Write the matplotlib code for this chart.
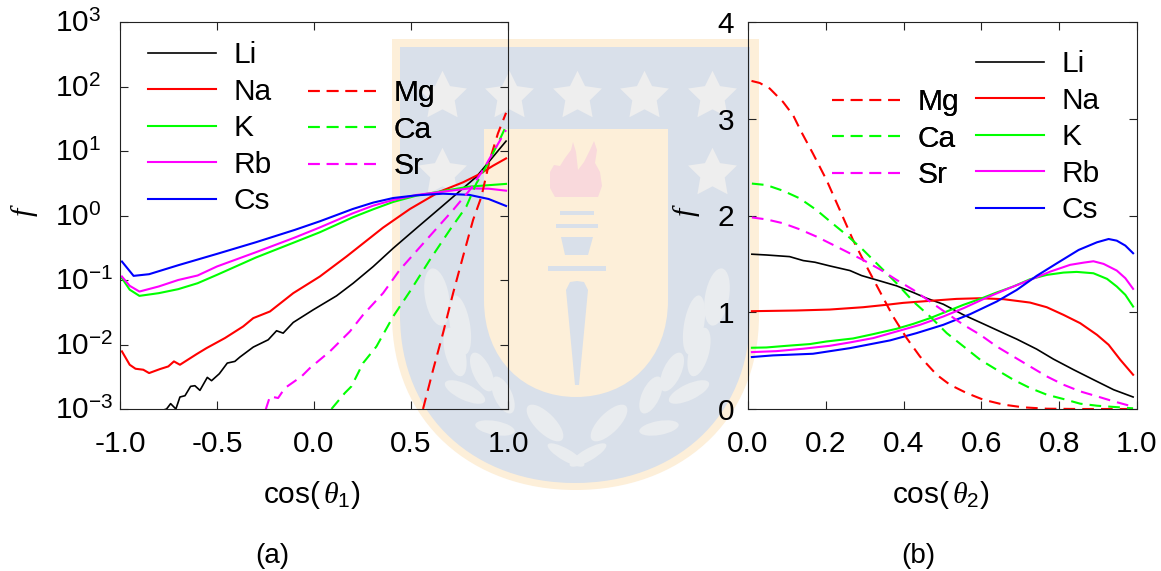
import numpy as np
import matplotlib
matplotlib.use("Agg")
import matplotlib.pyplot as plt
from matplotlib.path import Path
from matplotlib.patches import PathPatch, Ellipse, Polygon, Rectangle
from matplotlib.transforms import ScaledTranslation

# panel (a): cos(theta1) and log10(f)
cs_x1 = [-0.99, -0.93, -0.85, -0.7, -0.5, -0.3, -0.1, 0.03, 0.2, 0.305, 0.408, 0.528, 0.665, 0.8, 0.9, 0.99]
cs_y1 = [-0.714, -0.936, -0.91, -0.771, -0.595, -0.415, -0.224, -0.09, 0.101, 0.2, 0.271, 0.313, 0.338, 0.32, 0.256, 0.148]
rb_x1 = [-0.99, -0.95, -0.9, -0.8, -0.7, -0.6, -0.5, -0.3, -0.1, 0.03, 0.2, 0.305, 0.408, 0.528, 0.665, 0.8, 0.9, 0.99]
rb_y1 = [-0.946, -1.09, -1.179, -1.10, -1.0, -0.93, -0.79, -0.57, -0.343, -0.185, 0.034, 0.153, 0.24, 0.318, 0.37, 0.42, 0.416, 0.385]
k_x1 = [-0.99, -0.95, -0.9, -0.8, -0.7, -0.6, -0.5, -0.3, -0.1, 0.03, 0.2, 0.305, 0.408, 0.528, 0.665, 0.8, 0.9, 0.99]
k_y1 = [-0.972, -1.15, -1.246, -1.204, -1.142, -1.05, -0.92, -0.652, -0.415, -0.26, -0.028, 0.096, 0.21, 0.308, 0.38, 0.447, 0.47, 0.49]
na_x1 = [-0.99, -0.95, -0.92, -0.88, -0.85, -0.794, -0.751, -0.722, -0.691, -0.605, -0.554, -0.459, -0.365, -0.313, -0.227, -0.107, 0.03, 0.167, 0.356, 0.494, 0.648, 0.768, 0.854, 0.923, 0.99]
na_y1 = [-2.107, -2.314, -2.376, -2.391, -2.443, -2.381, -2.34, -2.262, -2.314, -2.149, -2.056, -1.9, -1.72, -1.591, -1.488, -1.204, -0.946, -0.637, -0.188, 0.1, 0.37, 0.514, 0.643, 0.772, 0.885]
li_x1 = [-0.811, -0.76, -0.739, -0.712, -0.691, -0.665, -0.636, -0.614, -0.588, -0.55, -0.528, -0.488, -0.447, -0.408, -0.382, -0.313, -0.236, -0.193, -0.159, -0.107, -0.004, 0.116, 0.202, 0.305, 0.408, 0.528, 0.648, 0.734, 0.837, 0.923, 0.99]
li_y1 = [-3.05, -3.0, -2.917, -3.0, -2.814, -2.794, -2.649, -2.639, -2.711, -2.51, -2.561, -2.453, -2.288, -2.262, -2.195, -2.04, -1.927, -1.787, -1.824, -1.658, -1.462, -1.246, -1.05, -0.792, -0.508, -0.197, 0.111, 0.333, 0.6, 0.911, 1.153]
sr_x1 = [-0.25, -0.227, -0.185, -0.15, -0.064, -0.021, 0.082, 0.185, 0.253, 0.356, 0.442, 0.579, 0.717, 0.803, 0.871, 0.94, 0.99]
sr_y1 = [-3.02, -2.804, -2.83, -2.675, -2.494, -2.365, -2.107, -1.798, -1.54, -1.204, -0.843, -0.379, 0.086, 0.395, 0.705, 1.066, 1.324]
ca_x1 = [0.09, 0.159, 0.193, 0.253, 0.322, 0.408, 0.494, 0.597, 0.70, 0.785, 0.837, 0.897, 0.948, 0.99]
ca_y1 = [-3.0, -2.752, -2.649, -2.288, -2.03, -1.566, -1.179, -0.688, -0.224, 0.137, 0.498, 0.808, 1.118, 1.386]
mg_x1 = [0.562, 0.614, 0.665, 0.717, 0.768, 0.82, 0.863, 0.906, 0.948, 0.99]
mg_y1 = [-3.0, -2.391, -1.824, -1.204, -0.637, -0.069, 0.292, 0.86, 1.272, 1.592]

# panel (b): cos(theta2) and f
mg_x2 = [0.009, 0.03, 0.056, 0.09, 0.116, 0.137, 0.167, 0.202, 0.236, 0.27, 0.305, 0.339, 0.373, 0.408, 0.442, 0.485, 0.519, 0.562, 0.605, 0.657, 0.708, 0.768, 0.854, 0.99]
mg_y2 = [3.391, 3.37, 3.312, 3.174, 3.036, 2.865, 2.64, 2.366, 2.057, 1.747, 1.472, 1.214, 0.956, 0.732, 0.543, 0.354, 0.251, 0.165, 0.096, 0.045, 0.017, 0.003, 0.0, 0.0]
ca_x2 = [0.01, 0.047, 0.09, 0.133, 0.176, 0.219, 0.253, 0.296, 0.339, 0.382, 0.425, 0.468, 0.511, 0.554, 0.597, 0.639, 0.682, 0.725, 0.768, 0.811, 0.854, 0.897, 0.99]
ca_y2 = [2.33, 2.315, 2.256, 2.177, 2.057, 1.912, 1.8, 1.644, 1.472, 1.3, 1.11, 0.956, 0.784, 0.647, 0.509, 0.406, 0.303, 0.217, 0.148, 0.103, 0.055, 0.034, 0.007]
sr_x2 = [0.01, 0.047, 0.09, 0.133, 0.176, 0.219, 0.253, 0.296, 0.339, 0.382, 0.425, 0.468, 0.511, 0.554, 0.597, 0.639, 0.682, 0.725, 0.768, 0.811, 0.854, 0.897, 0.94, 0.99]
sr_y2 = [1.98, 1.96, 1.92, 1.857, 1.782, 1.696, 1.627, 1.54, 1.444, 1.334, 1.231, 1.11, 0.99, 0.87, 0.767, 0.647, 0.543, 0.44, 0.337, 0.251, 0.182, 0.131, 0.079, 0.024]
li_x2 = [0.01, 0.047, 0.107, 0.142, 0.172, 0.21, 0.262, 0.292, 0.339, 0.382, 0.425, 0.459, 0.502, 0.554, 0.605, 0.657, 0.691, 0.742, 0.785, 0.837, 0.888, 0.94, 0.99]
li_y2 = [1.6, 1.592, 1.575, 1.534, 1.517, 1.479, 1.431, 1.379, 1.324, 1.273, 1.204, 1.145, 1.083, 0.973, 0.88, 0.784, 0.722, 0.619, 0.516, 0.406, 0.303, 0.199, 0.124]
na_x2 = [0.01, 0.124, 0.21, 0.296, 0.356, 0.399, 0.468, 0.536, 0.597, 0.657, 0.725, 0.768, 0.811, 0.854, 0.897, 0.927, 0.957, 0.99]
na_y2 = [1.011, 1.018, 1.028, 1.052, 1.077, 1.097, 1.118, 1.138, 1.145, 1.135, 1.1, 1.052, 0.973, 0.887, 0.767, 0.664, 0.509, 0.354]
k_x2 = [0.01, 0.047, 0.099, 0.159, 0.202, 0.27, 0.322, 0.382, 0.425, 0.468, 0.511, 0.554, 0.597, 0.639, 0.682, 0.725, 0.768, 0.811, 0.845, 0.888, 0.923, 0.948, 0.97, 0.99]
k_y2 = [0.633, 0.636, 0.653, 0.671, 0.698, 0.729, 0.774, 0.829, 0.88, 0.939, 1.008, 1.077, 1.138, 1.204, 1.266, 1.341, 1.386, 1.41, 1.417, 1.403, 1.345, 1.266, 1.18, 1.059]
rb_x2 = [0.01, 0.073, 0.142, 0.21, 0.262, 0.322, 0.382, 0.442, 0.502, 0.554, 0.614, 0.665, 0.725, 0.777, 0.828, 0.863, 0.888, 0.914, 0.948, 0.97, 0.99]
rb_y2 = [0.588, 0.598, 0.623, 0.653, 0.688, 0.733, 0.801, 0.87, 0.956, 1.042, 1.152, 1.238, 1.334, 1.42, 1.49, 1.513, 1.527, 1.5, 1.431, 1.352, 1.242]
cs_x2 = [0.01, 0.064, 0.167, 0.262, 0.365, 0.433, 0.502, 0.571, 0.639, 0.691, 0.742, 0.794, 0.85, 0.897, 0.927, 0.948, 0.97, 0.99]
cs_y2 = [0.537, 0.554, 0.571, 0.629, 0.709, 0.784, 0.87, 0.98, 1.11, 1.231, 1.376, 1.506, 1.644, 1.723, 1.757, 1.74, 1.689, 1.61]

xticks_a = [-1.0, -0.5, 0.0, 0.5, 1.0]
xticks_b = [0.0, 0.2, 0.4, 0.6, 0.8, 1.0]
yticks_a = [-3, -2, -1, 0, 1, 2, 3]
yticks_b = [0, 1, 2, 3, 4]

W, H = 1161, 571
plt.rcParams["font.family"] = ["Liberation Sans", "DejaVu Sans"]
plt.rcParams["mathtext.fontset"] = "custom"
plt.rcParams["mathtext.rm"] = "Liberation Sans"
plt.rcParams["mathtext.it"] = "Liberation Serif:italic"
plt.rcParams["axes.unicode_minus"] = False
FS = 21.5
DASH = (0, (5.6, 3.4))

fig = plt.figure(figsize=(W / 100, H / 100), dpi=100)

# background crest, in pixel coordinates
bg = fig.add_axes([0, 0, 1, 1], zorder=0)
bg.set_xlim(0, W)
bg.set_ylim(H, 0)
bg.axis("off")


def shield(x0, x1, top, side, bottom, color):
    cx = (x0 + x1) / 2
    verts = [(x0, top), (x1, top), (x1, side),
             (x1, side + (bottom - side) * 0.62), (cx + (x1 - x0) * 0.28, bottom), (cx, bottom),
             (cx - (x1 - x0) * 0.28, bottom), (x0, side + (bottom - side) * 0.62), (x0, side),
             (x0, top)]
    codes = [Path.MOVETO, Path.LINETO, Path.LINETO,
             Path.CURVE4, Path.CURVE4, Path.CURVE4,
             Path.CURVE4, Path.CURVE4, Path.CURVE4,
             Path.CLOSEPOLY]
    bg.add_patch(PathPatch(Path(verts, codes), fc=color, ec="none"))


cream = "#fdefd9"
blue = "#d9e0ea"
leaf = "#e9ecef"
shield(392, 759, 39, 315, 490, cream)
shield(400, 750, 47, 315, 483, blue)
shield(484, 668, 129, 300, 397, cream)

star_x = [442, 509, 577, 644, 712, 442, 712]
star_y = [96, 96, 96, 96, 96, 173, 173]
bg.plot(star_x, star_y, ls="none", marker=(5, 1, 0), ms=37, mfc="#eeeeee", mec="none")

# flame and torch
bg.add_patch(Polygon([(555, 197), (550, 188), (550, 172), (554, 165), (560, 166), (565, 158), (571, 150), (573, 142),
                      (576, 152), (578, 170), (584, 162), (590, 150), (594, 141), (597, 150), (595, 163),
                      (600, 172), (602, 186), (598, 197)],
                     fc="#f9d9dc", ec="none"))
bg.add_patch(Rectangle((560, 211), 34, 4, fc=blue, ec="none"))
bg.add_patch(Rectangle((556, 224), 42, 4, fc=blue, ec="none"))
bg.add_patch(Polygon([(561, 237), (593, 237), (588, 255), (565, 255)], fc=blue, ec="none"))
bg.add_patch(Rectangle((548, 266), 58, 5, fc=blue, ec="none"))
bg.add_patch(Polygon([(566, 290), (570, 282), (577, 281), (584, 282), (588, 290), (579, 385), (575, 385)],
                     fc=blue, ec="none"))

# laurel leaves, mirrored around the middle of the crest
leaf_x = [437, 460, 455, 482, 465, 503, 545, 495, 566]
leaf_y = [297, 325, 352, 372, 392, 395, 423, 428, 455]
leaf_w = [24, 20, 20, 18, 44, 18, 48, 40, 42]
leaf_h = [58, 60, 50, 42, 16, 40, 20, 14, 12]
leaf_a = [-10, -10, -15, -25, 25, -25, 45, 10, 30]
for x, y, w, h, a in zip(leaf_x, leaf_y, leaf_w, leaf_h, leaf_a):
    bg.add_patch(Ellipse((x, y), w, h, angle=a, fc=leaf, ec="none"))
    bg.add_patch(Ellipse((2 * 577 - x, y), w, h, angle=-a, fc=leaf, ec="none"))


def add_panel(left, right):
    ax = fig.add_axes([left / W, 1 - 409 / H, (right - left) / W, 387 / H], zorder=1)
    ax.patch.set_alpha(0)
    ax.tick_params(which="both", direction="in", top=True, right=True, length=6, width=0.8,
                   labelsize=FS, pad=10, color="#222222")
    ax.tick_params(axis="x", pad=15)
    for s in ax.spines.values():
        s.set_linewidth(0.8)
        s.set_color("#222222")
    return ax


LW = 1.5
ax1 = add_panel(120, 508)
ax1.set_yscale("log")
l_li, = ax1.plot(li_x1, 10.0 ** np.array(li_y1), color="black", lw=1.2, label="Li")
l_na, = ax1.plot(na_x1, 10.0 ** np.array(na_y1), color="red", lw=LW, label="Na")
l_k, = ax1.plot(k_x1, 10.0 ** np.array(k_y1), color="#00ff00", lw=LW, label="K")
l_rb, = ax1.plot(rb_x1, 10.0 ** np.array(rb_y1), color="magenta", lw=LW, label="Rb")
l_cs, = ax1.plot(cs_x1, 10.0 ** np.array(cs_y1), color="blue", lw=LW, label="Cs")
l_mg, = ax1.plot(mg_x1, 10.0 ** np.array(mg_y1), color="red", lw=LW, ls=DASH, label="Mg")
l_ca, = ax1.plot(ca_x1, 10.0 ** np.array(ca_y1), color="#00ff00", lw=LW, ls=DASH, label="Ca")
l_sr, = ax1.plot(sr_x1, 10.0 ** np.array(sr_y1), color="magenta", lw=LW, ls=DASH, label="Sr")
ax1.set_xlim(-1, 1)
ax1.set_ylim(1e-3, 1e3)
ax1.set_xticks(xticks_a)
ax1.set_xticklabels([f"{v:.1f}" for v in xticks_a])
ax1.set_yticks([10.0 ** v for v in yticks_a])
ax1.set_yticklabels([f"10$^{{\\mathrm{{{v}}}}}$" for v in yticks_a])
ax1.minorticks_off()
# the decade labels start at the same x and sit on a common baseline offset
ax1.tick_params(axis="y", pad=47)
shift = ScaledTranslation(0, -7.5 / 72, fig.dpi_scale_trans)
for lab in ax1.get_yticklabels():
    lab.set_ha("left")
    lab.set_va("baseline")
    lab.set_transform(lab.get_transform() + shift)

ax2 = add_panel(748, 1137)
ax2.plot(li_x2, li_y2, color="black", lw=1.2, label="Li")
ax2.plot(na_x2, na_y2, color="red", lw=LW, label="Na")
ax2.plot(k_x2, k_y2, color="#00ff00", lw=LW, label="K")
ax2.plot(rb_x2, rb_y2, color="magenta", lw=LW, label="Rb")
ax2.plot(cs_x2, cs_y2, color="blue", lw=LW, label="Cs")
ax2.plot(mg_x2, mg_y2, color="red", lw=LW, ls=DASH, label="Mg")
ax2.plot(ca_x2, ca_y2, color="#00ff00", lw=LW, ls=DASH, label="Ca")
ax2.plot(sr_x2, sr_y2, color="magenta", lw=LW, ls=DASH, label="Sr")
ax2.set_xlim(0, 1)
ax2.set_ylim(0, 4)
ax2.set_xticks(xticks_b)
ax2.set_xticklabels([f"{v:.1f}" for v in xticks_b])
ax2.set_yticks(yticks_b)


def add_legend(ax, handles, x, y):
    leg = ax.legend(handles=handles, loc="upper left", bbox_to_anchor=(x / W, 1 - y / H),
                    bbox_transform=fig.transFigure, frameon=False, fontsize=FS,
                    handlelength=2.27, handletextpad=0.6, labelspacing=0.285,
                    borderpad=0, borderaxespad=0)
    ax.add_artist(leg)


add_legend(ax1, [l_li, l_na, l_k, l_rb, l_cs], 148, 41)
add_legend(ax1, [l_mg, l_ca, l_sr], 308, 79)
h2 = ax2.get_lines()
add_legend(ax2, list(h2[:5]), 976, 50)
add_legend(ax2, list(h2[5:]), 832, 88)

fig.text(312 / W, 1 - 495 / H, r"cos($\,\theta_{\mathrm{1}}$)", ha="center", va="center", fontsize=FS)
fig.text(941 / W, 1 - 495 / H, r"cos($\,\theta_{\mathrm{2}}$)", ha="center", va="center", fontsize=FS)
fig.text(272 / W, 1 - 556 / H, "(a)", ha="center", va="center", fontsize=20)
fig.text(918 / W, 1 - 556 / H, "(b)", ha="center", va="center", fontsize=20)
fig.text(24 / W, 1 - 212 / H, "f", rotation=90, ha="center", va="center", fontsize=FS,
         family="Liberation Serif", style="italic")
fig.text(686 / W, 1 - 212 / H, "f", rotation=90, ha="center", va="center", fontsize=FS,
         family="Liberation Serif", style="italic")

fig.savefig("out.png", dpi=100)
